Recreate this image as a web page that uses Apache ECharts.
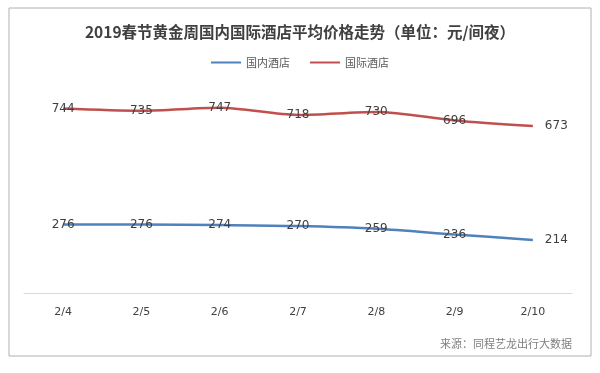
<!DOCTYPE html>
<html><head><meta charset="utf-8">
<script src="https://cdn.jsdelivr.net/npm/echarts@6/dist/echarts.min.js"></script>
<style>html,body{margin:0;padding:0;background:#fff}#c{width:600px;height:373px}</style>
</head><body><div id="c"></div>
<script>
const categories = ['2/4','2/5','2/6','2/7','2/8','2/9','2/10'];
const domestic = [276, 276, 274, 270, 259, 236, 214];
const international = [744, 735, 747, 718, 730, 696, 673];
const titleText = '2019春节黄金周国内国际酒店平均价格走势（单位：元/间夜）';
const sourceText = '来源：同程艺龙出行大数据';

function mkData(arr){
  return arr.map((v,i)=> i===arr.length-1 ? {value:v,label:{position:'right',distance:12}} : v);
}
const chart = echarts.init(document.getElementById('c'));
chart.setOption({
  animation:false,
  title:{text:titleText,left:'center',top:19,textStyle:{fontSize:15.5,fontWeight:'bold',color:'#404040',fontFamily:'Noto Sans CJK SC'}},
  legend:{top:52,left:'center',itemWidth:30,itemHeight:2,icon:'rect',itemGap:20,
    textStyle:{fontSize:11,color:'#595959',fontFamily:'Noto Sans CJK SC'},data:['国内酒店','国际酒店']},
  graphic:[
    {type:'rect',shape:{x:9,y:8,width:582,height:348},style:{fill:'none',stroke:'#b0b0b0',lineWidth:1},silent:true},
    {type:'text',right:28,top:338,style:{text:sourceText,fill:'#7f7f7f',fontSize:11,fontFamily:'Noto Sans CJK SC'}}
  ],
  grid:{left:24,right:28,top:45,bottom:80},
  xAxis:{type:'category',data:categories,boundaryGap:true,
    axisLine:{lineStyle:{color:'#d9d9d9',width:1}},axisTick:{show:false},
    axisLabel:{margin:14,fontSize:11,color:'#404040',fontFamily:'DejaVu Sans'}},
  yAxis:{type:'value',min:0,max:1000,show:false,splitLine:{show:false}},
  series:[
    {name:'国内酒店',type:'line',data:mkData(domestic),smooth:0.3,symbol:'circle',symbolSize:0.01,showSymbol:true,
      lineStyle:{color:'#4f81bd',width:2.5},itemStyle:{color:'#4f81bd'},
      label:{show:true,position:'inside',fontSize:12,color:'#404040',fontFamily:'DejaVu Sans'}},
    {name:'国际酒店',type:'line',data:mkData(international),smooth:0.3,symbol:'circle',symbolSize:0.01,showSymbol:true,
      lineStyle:{color:'#c0504d',width:2.5},itemStyle:{color:'#c0504d'},
      label:{show:true,position:'inside',fontSize:12,color:'#404040',fontFamily:'DejaVu Sans'}}
  ]
});
</script></body></html>
